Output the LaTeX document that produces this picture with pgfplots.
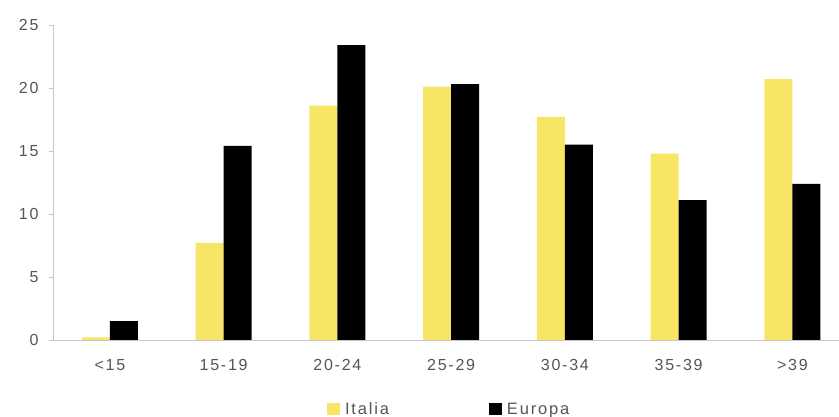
\documentclass[border=0pt]{standalone}
\usepackage{pgfplots}
\pgfplotsset{compat=1.18}
\usepackage{fontspec}
\setmainfont{Liberation Sans}
\newfontfamily\lsfont[LetterSpace=11]{Liberation Sans}
\definecolor{ita}{RGB}{247,229,102}
\definecolor{txt}{RGB}{85,85,85}
\definecolor{axl}{RGB}{200,200,200}
\begin{document}
\begin{tikzpicture}[x=1pt,y=1pt]
\useasboundingbox (-53,-77) rectangle (786,340);
\begin{axis}[
  at={(0,0)}, anchor=south west,
  scale only axis, width=786pt, height=315pt,
  ybar, bar width=28pt,
  xmin=-0.5, xmax=6.41, ymin=0, ymax=25,
  xtick={0,...,6},
  xticklabels={{<15},{15-19},{20-24},{25-29},{30-34},{35-39},{>39}},
  ytick={0,5,...,25},
  axis x line*=bottom, axis y line*=left,
  axis line style={axl, line width=0.6pt},
  x axis line style={-}, y axis line style={-},
  major x tick style={draw=none},
  ytick style={axl, line width=0.6pt},
  tick align=outside, major tick length=4pt,
  extra x ticks={0.5,1.5,2.5,3.5,4.5,5.5},
  extra x tick labels={},
  extra x tick style={major tick length=3pt, tick style={axl}},
  ticklabel style={font=\lsfont\fontsize{16}{18}\selectfont, text=txt},
  yticklabel style={xshift=-7pt},
  xticklabel style={yshift=-12pt},
  /pgf/number format/assume math mode=true,
  legend style={at={(0.504,-0.22)}, anchor=center, draw=none, fill=none,
    legend columns=2, font=\lsfont\fontsize{16.5}{18}\selectfont, text=txt,
    /tikz/every even column/.append style={column sep=98pt},
    /tikz/every odd column/.append style={column sep=3pt}},
  legend image code/.code={\fill[#1] (0pt,-6pt) rectangle (13pt,6pt);},
]
\addplot[fill=ita, draw=none, bar shift=-14pt] coordinates {(0,0.2) (1,7.7) (2,18.6) (3,20.1) (4,17.7) (5,14.8) (6,20.7)};
\addplot[fill=black, draw=none, bar shift=14pt] coordinates {(0,1.5) (1,15.4) (2,23.4) (3,20.3) (4,15.5) (5,11.1) (6,12.4)};
\legend{Italia, Europa}
\end{axis}
\end{tikzpicture}
\end{document}
